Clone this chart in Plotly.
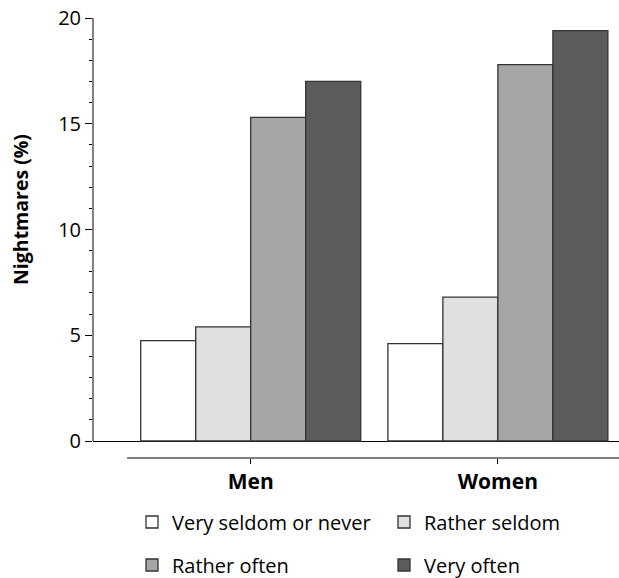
import plotly.graph_objects as go

categories = ["Men", "Women"]
series_names = ["Very seldom or never", "Rather seldom", "Rather often", "Very often"]
very_seldom = [4.75, 4.6]
rather_seldom = [5.4, 6.8]
rather_often = [15.3, 17.8]
very_often = [17.0, 19.4]
y_ticks = [0, 5, 10, 15, 20]

series_values = [very_seldom, rather_seldom, rather_often, very_often]
colors = ["#ffffff", "#e0e0e0", "#a6a6a6", "#5c5c5c"]
legend_ids = ["legend", "legend2", "legend3", "legend4"]
# legend positions in container fractions (x of item start, y of row centre)
legend_pos = [(132 / 619, 1 - 522 / 578), (384 / 619, 1 - 522 / 578),
              (132 / 619, 1 - 565 / 578), (384 / 619, 1 - 565 / 578)]

FONT = "Open Sans"
fig = go.Figure()
for name, vals, col, lg in zip(series_names, series_values, colors, legend_ids):
    fig.add_trace(go.Bar(
        x=categories, y=vals, name=name,
        marker=dict(color=col, line=dict(color="#333333", width=1.3)),
        legend=lg,
    ))

legend_layout = {}
for lg, (lx, ly) in zip(legend_ids, legend_pos):
    legend_layout[lg] = dict(orientation="h", xref="container", yref="container",
                             x=lx, xanchor="left", y=ly, yanchor="middle",
                             font=dict(size=20), bgcolor="rgba(0,0,0,0)")

fig.update_layout(
    width=619, height=578,
    margin=dict(l=93, r=0, t=18, b=120, autoexpand=False),
    plot_bgcolor="white", paper_bgcolor="white",
    barmode="group", bargap=0.11, bargroupgap=0,
    font=dict(family=FONT, color="black"),
    showlegend=True,
    xaxis=dict(range=[-0.638, 1.49], showline=False, showgrid=False, zeroline=False,
               automargin=False,
               ticks="outside", ticklen=5, tickcolor="black", tickwidth=1,
               tickfont=dict(size=21, family=FONT, weight="bold")),
    yaxis=dict(range=[-0.804, 20], tickvals=y_ticks, showline=False, showgrid=False,
               automargin=False,
               zeroline=True, zerolinecolor="black", zerolinewidth=1,
               ticks="outside", ticklen=7, tickcolor="black", tickwidth=1,
               tickfont=dict(size=20),
               minor=dict(dtick=1, tick0=0, ticks="outside", ticklen=3, tickcolor="black")),
    **legend_layout,
)
# y axis title placed as rotated annotation
fig.add_annotation(text="Nightmares (%)", textangle=-90, showarrow=False,
                   xref="paper", yref="paper", x=(20 - 93) / 526, y=(458 - 210) / 440,
                   xanchor="center", yanchor="middle",
                   font=dict(size=19.5, weight="bold", family=FONT))
# y axis line only from 0 to 20
fig.add_shape(type="line", xref="paper", yref="y", x0=0, x1=0, y0=0, y1=20,
              line=dict(color="black", width=1))
# separate category axis line below
fig.add_shape(type="line", xref="x", yref="paper", x0=-0.5, x1=1.5, y0=0, y1=0,
              line=dict(color="black", width=1))

fig.write_html("out.html", config={"displayModeBar": False},
               post_script="document.body.style.margin='0';document.body.style.overflow='hidden';")
